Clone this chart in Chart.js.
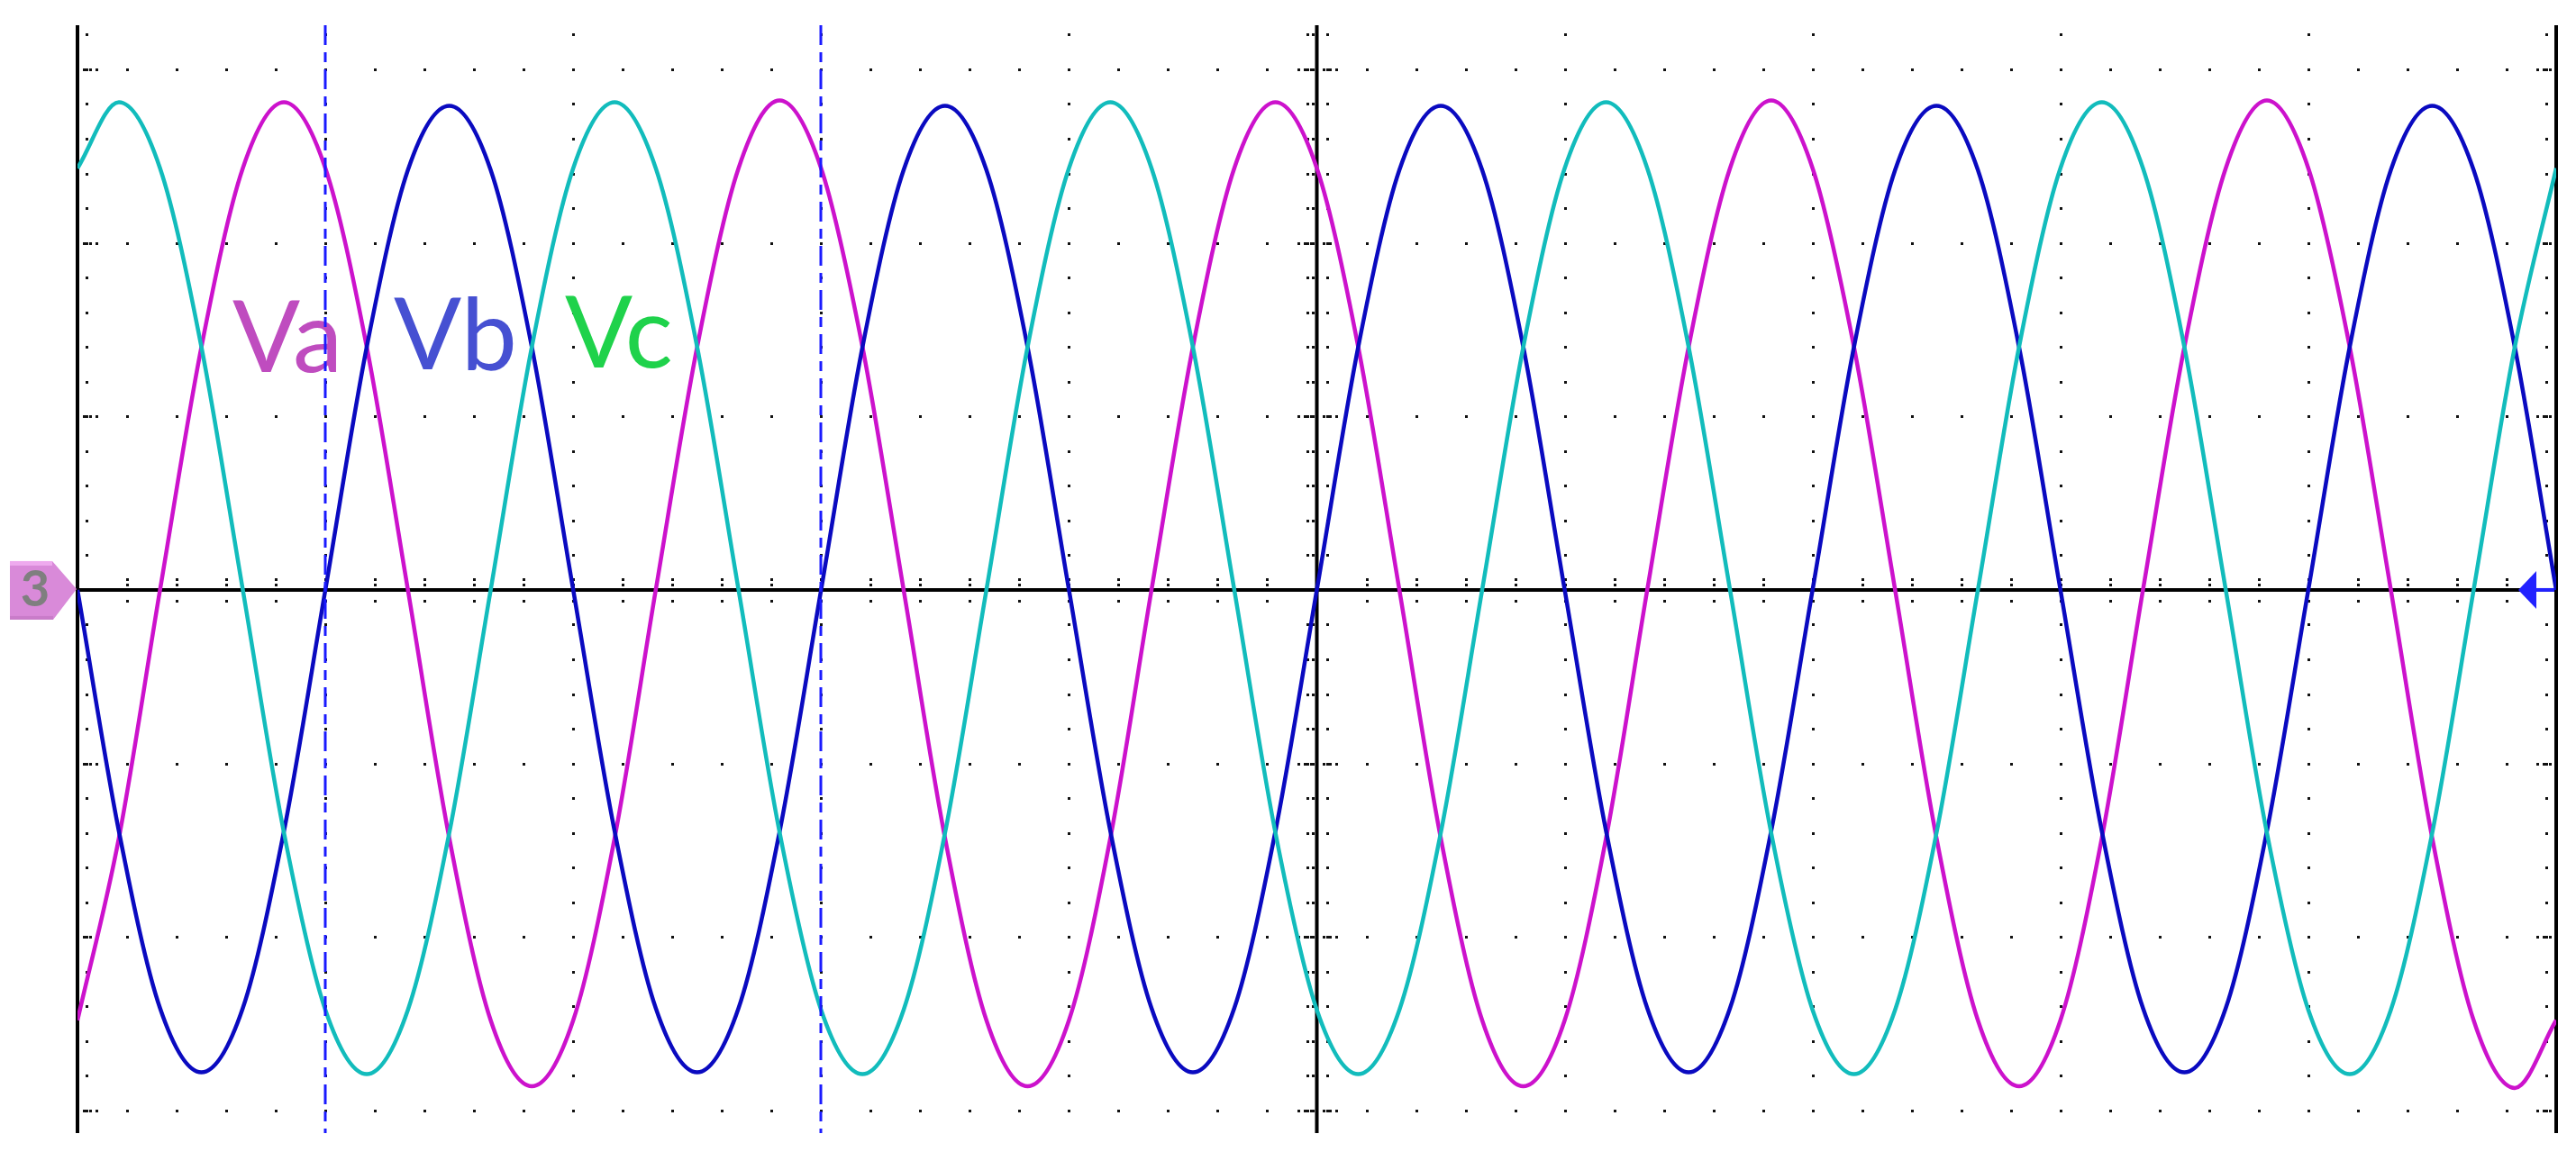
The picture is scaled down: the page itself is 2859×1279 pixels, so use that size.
<!DOCTYPE html>
<html>
<head>
<meta charset="utf-8">
<title>Three-phase voltages</title>
<script src="https://cdn.jsdelivr.net/npm/chart.js@4.4.1/dist/chart.umd.min.js"></script>
<style>
  html, body { margin: 0; padding: 0; background: #fff; }
  canvas { display: block; }
</style>
</head>
<body>
<canvas id="scope" width="2859" height="1279"></canvas>
<script>
// time axis in screen divisions (10 div across), one sample every 30 deg of a 2-div period
const time = [0, 0.167, 0.333, 0.5, 0.667, 0.833, 1, 1.167, 1.333, 1.5, 1.667, 1.833,
  2, 2.167, 2.333, 2.5, 2.667, 2.833, 3, 3.167, 3.333, 3.5, 3.667, 3.833,
  4, 4.167, 4.333, 4.5, 4.667, 4.833, 5, 5.167, 5.333, 5.5, 5.667, 5.833,
  6, 6.167, 6.333, 6.5, 6.667, 6.833, 7, 7.167, 7.333, 7.5, 7.667, 7.833,
  8, 8.167, 8.333, 8.5, 8.667, 8.833, 9, 9.167, 9.333, 9.5, 9.667, 9.833, 10];

// voltages, in vertical divisions
const va = [-2.48, -1.43, 0, 1.40, 2.43, 2.81, 2.43, 1.40, 0, -1.43, -2.48, -2.86,
  -2.48, -1.43, 0, 1.40, 2.43, 2.82, 2.43, 1.40, 0, -1.43, -2.48, -2.86,
  -2.48, -1.43, 0, 1.40, 2.43, 2.81, 2.43, 1.40, 0, -1.43, -2.48, -2.86,
  -2.48, -1.43, 0, 1.40, 2.43, 2.82, 2.43, 1.40, 0, -1.43, -2.48, -2.86,
  -2.48, -1.43, 0, 1.40, 2.43, 2.82, 2.43, 1.40, 0, -1.43, -2.48, -2.87,
  -2.48];
const vb = [0, -1.39, -2.41, -2.78, -2.41, -1.39, 0, 1.40, 2.42, 2.79, 2.42, 1.40,
  0, -1.39, -2.41, -2.78, -2.41, -1.39, 0, 1.40, 2.42, 2.79, 2.42, 1.40,
  0, -1.39, -2.41, -2.78, -2.41, -1.39, 0, 1.40, 2.42, 2.79, 2.42, 1.40,
  0, -1.39, -2.41, -2.78, -2.41, -1.39, 0, 1.40, 2.42, 2.79, 2.42, 1.40,
  0, -1.39, -2.41, -2.78, -2.41, -1.39, 0, 1.40, 2.42, 2.79, 2.42, 1.40,
  0];
const vc = [2.43, 2.81, 2.43, 1.40, 0, -1.40, -2.42, -2.79, -2.42, -1.40, 0, 1.40,
  2.43, 2.81, 2.43, 1.40, 0, -1.40, -2.42, -2.79, -2.42, -1.40, 0, 1.40,
  2.43, 2.81, 2.43, 1.40, 0, -1.40, -2.42, -2.79, -2.42, -1.40, 0, 1.40,
  2.43, 2.81, 2.43, 1.40, 0, -1.40, -2.42, -2.79, -2.42, -1.40, 0, 1.40,
  2.43, 2.81, 2.43, 1.40, 0, -1.40, -2.42, -2.79, -2.42, -1.40, 0, 1.40,
  2.43];

const cursorDivs = [1, 3];
const labels = [
  { text: "Va", color: "#bf4cbf" },
  { text: "Vb", color: "#4650d2" },
  { text: "Vc", color: "#1fd24b" }
];

function dot(ctx, x, y) {
  ctx.fillRect(Math.round(x) - 1, Math.round(y) - 1, 3, 3);
}

// oscilloscope graticule: dotted major lines, ticked centre axes
const graticule = {
  id: "graticule",
  beforeDatasetsDraw(chart) {
    const { ctx, chartArea: a, scales: { x, y } } = chart;
    const cx = x.getPixelForValue(5), cy = y.getPixelForValue(0);
    const xMinor = [], yMinor = [];
    for (let i = 0; i <= 50; i++) xMinor.push(i / 5);
    for (let j = -20; j <= 20; j++) {
      const v = j / 5;
      if (v >= y.min && v <= y.max) yMinor.push(v);
    }
    ctx.save();
    ctx.fillStyle = "#111";

    // dotted horizontal rows
    [-3, -2, -1, 1, 2, 3].forEach(r => {
      const py = y.getPixelForValue(r);
      xMinor.forEach(v => {
        if (v > 0 && v < 10 && v !== 5) dot(ctx, x.getPixelForValue(v), py);
      });
      [7, 14, 21].forEach(d => {
        dot(ctx, a.left + d, py);
        dot(ctx, a.right - d, py);
        dot(ctx, cx - d, py);
        dot(ctx, cx + d, py);
      });
    });
    // dotted vertical columns
    [1, 2, 3, 4, 6, 7, 8, 9].forEach(c => {
      const px = x.getPixelForValue(c);
      yMinor.forEach(v => { if (v !== 0) dot(ctx, px, y.getPixelForValue(v)); });
    });
    // ticks on centre axes and borders
    xMinor.forEach(v => {
      if (v <= 0 || v >= 10 || v === 5) return;
      const px = x.getPixelForValue(v);
      dot(ctx, px, cy - 12); dot(ctx, px, cy - 6); dot(ctx, px, cy + 12);
    });
    yMinor.forEach(v => {
      if (v === 0) return;
      const py = y.getPixelForValue(v);
      dot(ctx, cx - 11, py); dot(ctx, cx - 5, py); dot(ctx, cx + 11, py);
      dot(ctx, a.left + 10, py); dot(ctx, a.right - 11, py);
    });

    ctx.strokeStyle = "#000";
    ctx.lineWidth = 4;
    ctx.beginPath();
    ctx.moveTo(a.left, a.top); ctx.lineTo(a.left, a.bottom);
    ctx.moveTo(a.right, a.top); ctx.lineTo(a.right, a.bottom);
    ctx.moveTo(cx, a.top); ctx.lineTo(cx, a.bottom);
    ctx.moveTo(a.left, cy); ctx.lineTo(a.right, cy);
    ctx.stroke();

    // channel labels
    ctx.font = "111px Lato";
    ctx.textBaseline = "alphabetic";
    const pos = [[172, 385], [351, 382], [541, 380]];
    labels.forEach((l, i) => {
      const m = ctx.measureText(l.text);
      ctx.fillStyle = l.color;
      ctx.fillText(l.text, a.left + pos[i][0] + m.actualBoundingBoxLeft, a.top + pos[i][1]);
    });
    ctx.restore();
  },
  afterDatasetsDraw(chart) {
    const { ctx, chartArea: a, scales: { x, y } } = chart;
    const cy = y.getPixelForValue(0);
    ctx.save();
    // cursors
    ctx.strokeStyle = "#1a1aff";
    ctx.lineWidth = 3;
    ctx.setLineDash([22, 8, 11, 8]);
    cursorDivs.forEach(c => {
      const px = Math.round(x.getPixelForValue(c));
      ctx.beginPath();
      ctx.moveTo(px, a.top);
      ctx.lineTo(px, a.bottom);
      ctx.stroke();
    });
    ctx.setLineDash([]);

    // channel 3 ground marker on the left
    const l = a.left;
    ctx.fillStyle = "#d98ad9";
    ctx.beginPath();
    ctx.moveTo(l - 75, cy - 32);
    ctx.lineTo(l - 28, cy - 32);
    ctx.lineTo(l - 1, cy - 1);
    ctx.lineTo(l - 27, cy + 33);
    ctx.lineTo(l - 75, cy + 33);
    ctx.closePath();
    ctx.fill();
    ctx.fillStyle = "#eeaaee";
    ctx.fillRect(l - 75, cy - 32, 47, 5);
    ctx.fillStyle = "#c97cc9";
    ctx.fillRect(l - 75, cy + 29, 48, 4);
    ctx.fillStyle = "#7f7f7f";
    ctx.font = "bold 56px Lato";
    ctx.textAlign = "center";
    ctx.textBaseline = "middle";
    ctx.fillText("3", l - 47, cy);

    // trigger arrow on the right
    const r = a.right;
    ctx.fillStyle = "#2222ff";
    ctx.beginPath();
    ctx.moveTo(r - 42, cy);
    ctx.lineTo(r - 22, cy - 21);
    ctx.lineTo(r - 22, cy + 21);
    ctx.closePath();
    ctx.fill();
    ctx.fillRect(r - 23, cy - 2, 21, 4);
    ctx.restore();
  }
};

function series(values) {
  return time.map((t, i) => ({ x: t, y: values[i] }));
}

new Chart(document.getElementById("scope"), {
  type: "line",
  data: {
    datasets: [
      { label: "Vc", data: series(vc), borderColor: "#12bcbc" },
      { label: "Vb", data: series(vb), borderColor: "#0a0ac0" },
      { label: "Va", data: series(va), borderColor: "#cc12cc" }
    ]
  },
  options: {
    responsive: false,
    devicePixelRatio: 1,
    animation: false,
    layout: { padding: { left: 86, right: 22, top: 28, bottom: 21 } },
    elements: {
      point: { radius: 0 },
      line: { borderWidth: 4.5, cubicInterpolationMode: "monotone" }
    },
    scales: {
      x: { type: "linear", min: 0, max: 10, display: false },
      y: { type: "linear", min: -3.13, max: 3.254, display: false }
    },
    plugins: { legend: { display: false }, tooltip: { enabled: false } }
  },
  plugins: [graticule]
});
</script>
</body>
</html>
